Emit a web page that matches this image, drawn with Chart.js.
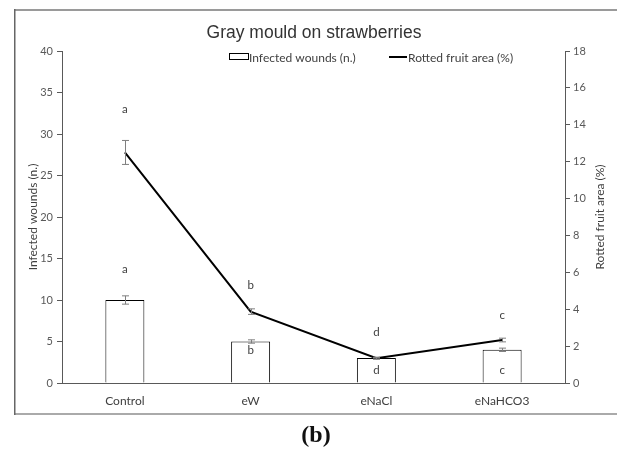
<!DOCTYPE html>
<html>
<head>
<meta charset="utf-8">
<script src="https://cdn.jsdelivr.net/npm/chart.js@4/dist/chart.umd.min.js"></script>
<style>
  html, body { margin: 0; padding: 0; background: #fff; }
  #wrap { position: relative; width: 617px; height: 462px; }
  canvas { display: block; }
</style>
</head>
<body>
<div id="wrap"><canvas id="c" width="617" height="462"></canvas></div>
<script>
// ---- data ----
const categories = ['Control', 'eW', 'eNaCl', 'eNaHCO3'];
const infectedWounds = [10, 5, 3, 4];
const infectedWoundsErr = [0.5, 0.2, 0.1, 0.2];
const rottedArea = [12.5, 3.87, 1.34, 2.33];
const rottedAreaErr = [0.65, 0.15, 0.05, 0.1];
const woundLetters = ['a', 'b', 'd', 'c'];
const areaLetters = ['a', 'b', 'd', 'c'];
const leftTicks = [0, 5, 10, 15, 20, 25, 30, 35, 40];
const rightTicks = [0, 2, 4, 6, 8, 10, 12, 14, 16, 18];

const txt = '#404040';
const axisCol = '#595959';
const errCol = '#7f7f7f';
const labelFont = 'Lato, "Open Sans", sans-serif';

const decorPlugin = {
  id: 'decor',
  beforeDraw(chart) {
    const ctx = chart.ctx;
    ctx.save();
    // frame
    ctx.strokeStyle = '#9a9a9a';
    ctx.lineWidth = 2;
    ctx.beginPath(); ctx.moveTo(14, 10); ctx.lineTo(617, 10); ctx.stroke();
    ctx.strokeStyle = '#aaaaaa';
    ctx.beginPath(); ctx.moveTo(14, 414); ctx.lineTo(617, 414); ctx.stroke();
    ctx.strokeStyle = '#666666';
    ctx.lineWidth = 1.5;
    ctx.beginPath(); ctx.moveTo(14.75, 9); ctx.lineTo(14.75, 415); ctx.stroke();
    // title
    ctx.fillStyle = '#333333';
    ctx.font = '17.5px "Liberation Sans", Arial, sans-serif';
    ctx.textAlign = 'center';
    ctx.textBaseline = 'middle';
    ctx.fillText('Gray mould on strawberries', 314, 33);
    // (b)
    ctx.fillStyle = '#111111';
    ctx.font = 'bold 24px "Liberation Serif", "DejaVu Serif", serif';
    ctx.fillText('(b)', 316, 436);
    // right axis title (reads bottom to top)
    const yR = chart.scales.y1;
    ctx.save();
    ctx.translate(600, (chart.chartArea.top + chart.chartArea.bottom) / 2);
    ctx.rotate(-Math.PI / 2);
    ctx.fillStyle = txt;
    ctx.font = '12px ' + labelFont;
    ctx.fillText('Rotted fruit area (%)', 0, 0);
    ctx.restore();
    // legend
    ctx.font = '12px ' + labelFont;
    ctx.textAlign = 'left';
    ctx.strokeStyle = '#000';
    ctx.lineWidth = 1;
    ctx.fillStyle = '#fff';
    ctx.fillRect(229.5, 53.5, 19, 6);
    ctx.strokeRect(229.5, 53.5, 19, 6);
    ctx.fillStyle = txt;
    ctx.fillText('Infected wounds (n.)', 249, 58);
    ctx.lineWidth = 2;
    ctx.beginPath(); ctx.moveTo(389, 57); ctx.lineTo(407, 57); ctx.stroke();
    ctx.fillText('Rotted fruit area (%)', 408, 58);
    ctx.restore();
  },
  afterDatasetsDraw(chart) {
    const ctx = chart.ctx;
    const x = chart.scales.x, yL = chart.scales.y, yR = chart.scales.y1;
    ctx.save();
    // error bars
    ctx.strokeStyle = errCol;
    ctx.lineWidth = 1;
    const drawErr = (cx, v, e, sc) => {
      const t = sc.getPixelForValue(v + e), b = sc.getPixelForValue(v - e);
      ctx.beginPath();
      ctx.moveTo(cx + 0.5, t); ctx.lineTo(cx + 0.5, b);
      ctx.moveTo(cx - 3, t); ctx.lineTo(cx + 4, t);
      ctx.moveTo(cx - 3, b); ctx.lineTo(cx + 4, b);
      ctx.stroke();
    };
    categories.forEach((c, i) => {
      const cx = Math.round(x.getPixelForValue(i));
      drawErr(cx, infectedWounds[i], infectedWoundsErr[i], yL);
      drawErr(cx, rottedArea[i], rottedAreaErr[i], yR);
    });
    // letters
    ctx.fillStyle = txt;
    ctx.font = '11.5px ' + labelFont;
    ctx.textAlign = 'center';
    ctx.textBaseline = 'middle';
    const lineOff = [31, 24, 25, 23];
    const barDy = [-27, 9, 12, 20];
    categories.forEach((c, i) => {
      const cx = x.getPixelForValue(i);
      const lt = yR.getPixelForValue(rottedArea[i] + rottedAreaErr[i]);
      ctx.fillText(areaLetters[i], cx, lt - lineOff[i]);
      let by;
      if (barDy[i] < 0) by = yL.getPixelForValue(infectedWounds[i] + infectedWoundsErr[i]) + barDy[i];
      else by = yL.getPixelForValue(infectedWounds[i]) + barDy[i];
      ctx.fillText(woundLetters[i], cx, by);
    });
    ctx.restore();
  }
};

new Chart(document.getElementById('c'), {
  data: {
    labels: categories,
    datasets: [
      {
        type: 'line',
        label: 'Rotted fruit area (%)',
        data: rottedArea,
        yAxisID: 'y1',
        borderColor: '#000',
        borderWidth: 2,
        pointRadius: 0,
        tension: 0,
        order: 0
      },
      {
        type: 'bar',
        label: 'Infected wounds (n.)',
        data: infectedWounds,
        yAxisID: 'y',
        backgroundColor: '#fff',
        borderColor: '#000',
        borderWidth: 1,
        categoryPercentage: 1,
        barPercentage: 0.31,
        order: 1
      }
    ]
  },
  options: {
    responsive: false,
    animation: false,
    devicePixelRatio: 1,
    layout: { padding: { top: 51, bottom: 49, left: 0, right: 0 } },
    plugins: { legend: { display: false }, title: { display: false }, tooltip: { enabled: false } },
    scales: {
      x: {
        type: 'category',
        offset: true,
        grid: { display: false, drawTicks: false },
        border: { display: true, color: axisCol, width: 1 },
        ticks: { color: txt, font: { family: labelFont, size: 12 }, padding: 11, maxRotation: 0 },
        afterFit(s) { s.height = 30; }
      },
      y: {
        position: 'left',
        min: 0, max: 40,
        afterBuildTicks(s) { s.ticks = leftTicks.map(v => ({ value: v })); },
        grid: { drawOnChartArea: false, drawTicks: true, tickLength: 5, color: axisCol },
        border: { display: true, color: axisCol, width: 1 },
        ticks: { color: axisCol, font: { family: labelFont, size: 11 }, padding: 4 },
        title: { display: true, text: 'Infected wounds (n.)', color: txt, font: { family: labelFont, size: 12 }, padding: { top: 26, bottom: 0 } },
        afterFit(s) { s.width = 62; }
      },
      y1: {
        position: 'right',
        min: 0, max: 18,
        afterBuildTicks(s) { s.ticks = rightTicks.map(v => ({ value: v })); },
        grid: { drawOnChartArea: false, drawTicks: true, tickLength: 5, color: axisCol },
        border: { display: true, color: axisCol, width: 1 },
        ticks: { color: axisCol, font: { family: labelFont, size: 11 }, padding: 3 },
        title: { display: false },
        afterFit(s) { s.width = 52; }
      }
    }
  },
  plugins: [decorPlugin]
});
</script>
</body>
</html>
